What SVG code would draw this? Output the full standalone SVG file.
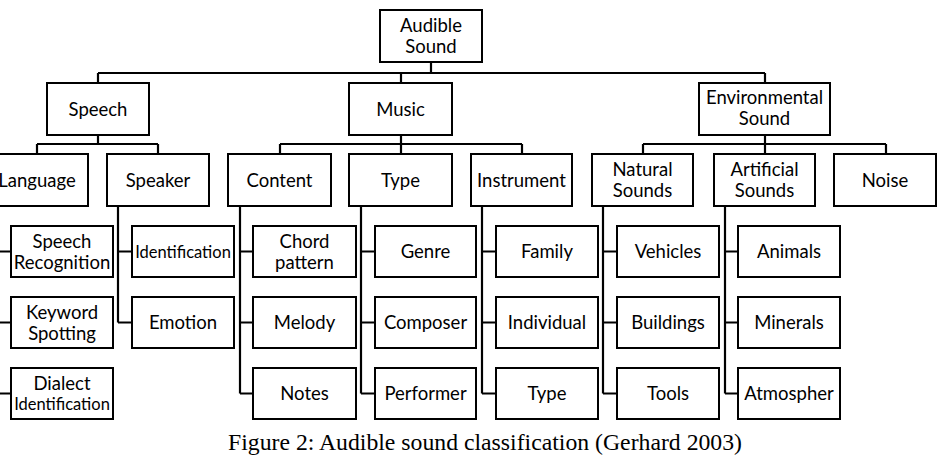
<svg xmlns="http://www.w3.org/2000/svg" width="939" height="456" viewBox="0 0 939 456">
<style>
rect.b{fill:#fff;stroke:#000;stroke-width:2}
text{font-family:Lato,"Liberation Sans",sans-serif;font-size:18.5px;fill:#000;text-anchor:middle}
text.s{font-size:16.5px}
#edges path{fill:none;stroke:#000;stroke-width:2.2}
text.cap{font-family:"Liberation Serif","Times New Roman",Tinos,serif;font-size:23px;text-anchor:start}
</style>
<rect width="939" height="456" fill="#fff"/>
<g id="edges">
<path d="M431 62V73M98 73H765M98 73V83M401 73V83M765 73V83"/>
<path d="M98 135V144M37 144H158M37 144V154M158 144V154"/>
<path d="M401 135V144M280 144H522M280 144V154M401 144V154M522 144V154"/>
<path d="M765 135V144M643 144H886M643 144V154M765 144V154M886 144V154"/>
<path d="M-3 206V393.5M-3 251.5H11M-3 322.5H11M-3 393.5H11"/>
<path d="M118 206V322.5M118 251.5H132M118 322.5H132"/>
<path d="M240 206V393.5M240 251.5H253M240 322.5H253M240 393.5H253"/>
<path d="M361 206V393.5M361 251.5H375M361 322.5H375M361 393.5H375"/>
<path d="M482 206V393.5M482 251.5H496M482 322.5H496M482 393.5H496"/>
<path d="M603 206V393.5M603 251.5H617M603 322.5H617M603 393.5H617"/>
<path d="M725 206V393.5M725 251.5H738M725 322.5H738M725 393.5H738"/>
</g>
<g id="audible"><rect class="b" x="380" y="10" width="102" height="52"/><text x="431" y="32">Audible</text><text x="431" y="53">Sound</text></g>
<g id="speech"><rect class="b" x="47" y="83" width="102" height="52"/><text x="98" y="115.5">Speech</text></g>
<g id="music"><rect class="b" x="349" y="83" width="103" height="52"/><text x="400.5" y="115.5">Music</text></g>
<g id="environmental"><rect class="b" x="699" y="83" width="131" height="52"/><text x="764.5" y="104">Environmental</text><text x="764.5" y="125">Sound</text></g>
<g id="language"><rect class="b" x="-14" y="154" width="102" height="52"/><text x="37" y="186.5">Language</text></g>
<g id="speaker"><rect class="b" x="107" y="154" width="102" height="52"/><text x="158" y="186.5">Speaker</text></g>
<g id="content"><rect class="b" x="228" y="154" width="103" height="52"/><text x="279.5" y="186.5">Content</text></g>
<g id="type"><rect class="b" x="349" y="154" width="103" height="52"/><text x="400.5" y="186.5">Type</text></g>
<g id="instrument"><rect class="b" x="471" y="154" width="101" height="52"/><text x="521.5" y="186.5">Instrument</text></g>
<g id="natural"><rect class="b" x="592" y="154" width="101" height="52"/><text x="642.5" y="176">Natural</text><text x="642.5" y="197">Sounds</text></g>
<g id="artificial"><rect class="b" x="714" y="154" width="101" height="52"/><text x="764.5" y="176">Artificial</text><text x="764.5" y="197">Sounds</text></g>
<g id="noise"><rect class="b" x="834" y="154" width="102" height="52"/><text x="885" y="186.5">Noise</text></g>
<g id="speech-recognition"><rect class="b" x="11" y="226" width="102" height="51"/><text x="62" y="247.5">Speech</text><text x="62" y="268.5">Recognition</text></g>
<g id="keyword-spotting"><rect class="b" x="11" y="297" width="102" height="51"/><text x="62" y="318.5">Keyword</text><text x="62" y="339.5">Spotting</text></g>
<g id="dialect-identification"><rect class="b" x="11" y="368" width="102" height="51"/><text x="62" y="390">Dialect</text><text class="s" x="62" y="410">Identification</text></g>
<g id="identification"><rect class="b" x="132" y="226" width="102" height="51"/><text class="s" x="183" y="257.5">Identification</text></g>
<g id="emotion"><rect class="b" x="132" y="297" width="102" height="51"/><text x="183" y="329">Emotion</text></g>
<g id="chord-pattern"><rect class="b" x="253" y="226" width="103" height="51"/><text x="304.5" y="247.5">Chord</text><text x="304.5" y="268.5">pattern</text></g>
<g id="melody"><rect class="b" x="253" y="297" width="103" height="51"/><text x="304.5" y="329">Melody</text></g>
<g id="notes"><rect class="b" x="253" y="368" width="103" height="51"/><text x="304.5" y="400">Notes</text></g>
<g id="genre"><rect class="b" x="375" y="226" width="101" height="51"/><text x="425.5" y="258">Genre</text></g>
<g id="composer"><rect class="b" x="375" y="297" width="101" height="51"/><text x="425.5" y="329">Composer</text></g>
<g id="performer"><rect class="b" x="375" y="368" width="101" height="51"/><text x="425.5" y="400">Performer</text></g>
<g id="family"><rect class="b" x="496" y="226" width="102" height="51"/><text x="547" y="258">Family</text></g>
<g id="individual"><rect class="b" x="496" y="297" width="102" height="51"/><text x="547" y="329">Individual</text></g>
<g id="instrument-type"><rect class="b" x="496" y="368" width="102" height="51"/><text x="547" y="400">Type</text></g>
<g id="vehicles"><rect class="b" x="617" y="226" width="102" height="51"/><text x="668" y="258">Vehicles</text></g>
<g id="buildings"><rect class="b" x="617" y="297" width="102" height="51"/><text x="668" y="329">Buildings</text></g>
<g id="tools"><rect class="b" x="617" y="368" width="102" height="51"/><text x="668" y="400">Tools</text></g>
<g id="animals"><rect class="b" x="738" y="226" width="102" height="51"/><text x="789" y="258">Animals</text></g>
<g id="minerals"><rect class="b" x="738" y="297" width="102" height="51"/><text x="789" y="329">Minerals</text></g>
<g id="atmospher"><rect class="b" x="738" y="368" width="102" height="51"/><text x="789" y="400">Atmospher</text></g>
<text class="cap" x="228" y="450" textLength="514" lengthAdjust="spacingAndGlyphs">Figure 2: Audible sound classification (Gerhard 2003)</text>
</svg>
